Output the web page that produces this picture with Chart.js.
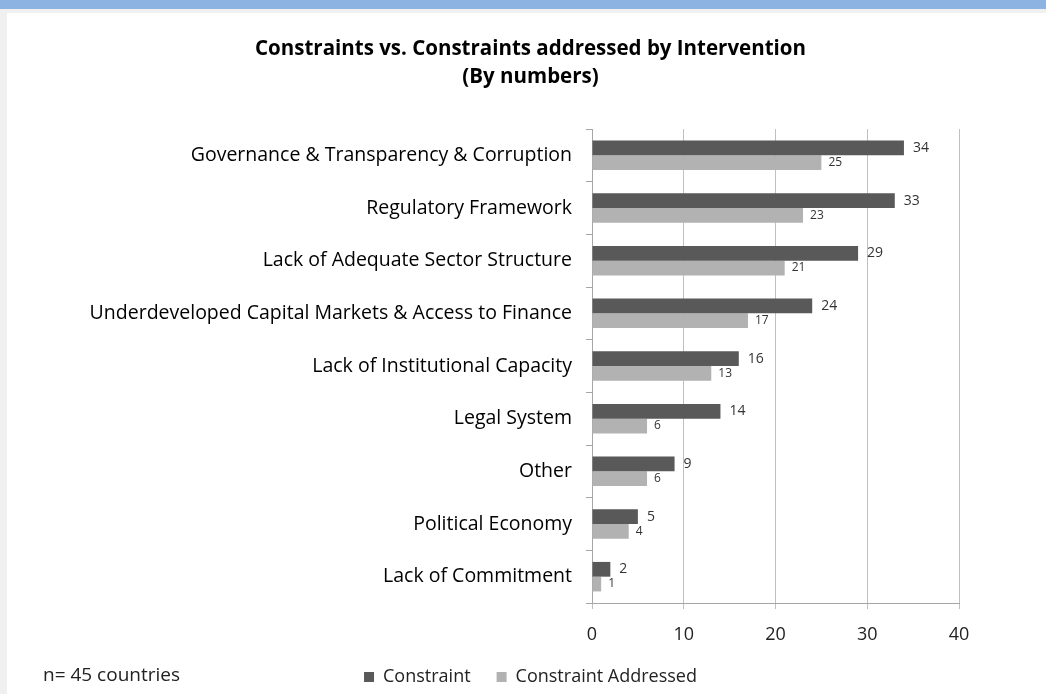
<!DOCTYPE html>
<html>
<head>
<meta charset="utf-8">
<script src="https://cdn.jsdelivr.net/npm/chart.js@4/dist/chart.umd.min.js"></script>
<style>
    body { margin: 0; background: #f0f0f0; }
    #topbar { height: 9px; background: #8db3e2; }
    #wrap { position: absolute; left: 7px; top: 13px; width: 1039px; height: 681px; background: #fff; }
</style>
</head>
<body>
<div id="topbar"></div>
<div id="wrap"><canvas id="chart"></canvas></div>
<script>
const categories = [
    "Governance & Transparency & Corruption",
    "Regulatory Framework",
    "Lack of Adequate Sector Structure",
    "Underdeveloped Capital Markets & Access to Finance",
    "Lack of Institutional Capacity",
    "Legal System",
    "Other",
    "Political Economy",
    "Lack of Commitment"
];
const constraintValues = [34, 33, 29, 24, 16, 14, 9, 5, 2];
const addressedValues = [25, 23, 21, 17, 13, 6, 6, 4, 1];
const seriesNames = ["Constraint", "Constraint Addressed"];
const xMin = 0, xMax = 40, xStep = 10;
const titleLines = ["Constraints vs. Constraints addressed by Intervention", "(By numbers)"];
const footNote = "n= 45 countries";

Chart.defaults.font.family = "'Open Sans', sans-serif";
Chart.defaults.color = "#222";

// value labels next to the bar ends
const barLabels = {
    id: "barLabels",
    afterDatasetsDraw(chart) {
        const ctx = chart.ctx;
        ctx.save();
        ctx.fillStyle = "#333";
        ctx.textBaseline = "middle";
        ctx.textAlign = "left";
        chart.data.datasets.forEach((ds, i) => {
            const meta = chart.getDatasetMeta(i);
            ctx.font = (i === 0 ? "14px " : "12px ") + Chart.defaults.font.family;
            meta.data.forEach((bar, j) => {
                ctx.fillText(ds.data[j], bar.x + (i === 0 ? 9 : 7), bar.y);
            });
        });
        ctx.restore();
    }
};

const footNotePlugin = {
    id: "footNote",
    afterDraw(chart) {
        const ctx = chart.ctx;
        ctx.save();
        ctx.fillStyle = "#222";
        ctx.font = "19px " + Chart.defaults.font.family;
        ctx.textBaseline = "middle";
        ctx.fillText(footNote, 36, 663);
        ctx.restore();
    }
};

const chart = new Chart(document.getElementById("chart"), {
    type: "bar",
    data: {
        labels: categories,
        datasets: [
            {
                label: seriesNames[0],
                data: constraintValues,
                backgroundColor: "#595959",
                categoryPercentage: 0.56,
                barPercentage: 1
            },
            {
                label: seriesNames[1],
                data: addressedValues,
                backgroundColor: "#b2b2b2",
                categoryPercentage: 0.56,
                barPercentage: 1
            }
        ]
    },
    options: {
        indexAxis: "y",
        responsive: true,
        maintainAspectRatio: false,
        animation: false,
        layout: { padding: { left: 8, right: 0, top: 0, bottom: -2 } },
        plugins: {
            title: {
                display: true,
                text: titleLines,
                color: "#000",
                font: { size: 20.5, weight: "bold", lineHeight: 1.366 },
                padding: { top: 22, bottom: 38 }
            },
            legend: {
                position: "bottom",
                labels: {
                    boxWidth: 10,
                    boxHeight: 10,
                    padding: 26,
                    color: "#222",
                    font: { size: 18 }
                }
            },
            tooltip: { enabled: false }
        },
        scales: {
            x: {
                min: xMin,
                max: xMax,
                ticks: { stepSize: xStep, color: "#222", font: { size: 18 }, padding: 15 },
                grid: { color: "#c0c0c0", tickLength: 6 },
                border: { color: "#a6a6a6" },
                afterFit(scale) { scale.height = 39; }
            },
            y: {
                ticks: { color: "#000", font: { size: 19.5 }, padding: 14 },
                grid: { drawOnChartArea: false, tickLength: 6, color: "#a6a6a6" },
                border: { color: "#a6a6a6" },
                afterFit(scale) { scale.width = 577; }
            },
            // empty right-hand margin so the title and legend stay centred on the page
            yRight: {
                type: "category",
                position: "right",
                ticks: { display: false },
                grid: { display: false },
                border: { display: false },
                afterFit(scale) { scale.width = 87; }
            }
        }
    },
    plugins: [barLabels, footNotePlugin]
});
</script>
</body>
</html>
